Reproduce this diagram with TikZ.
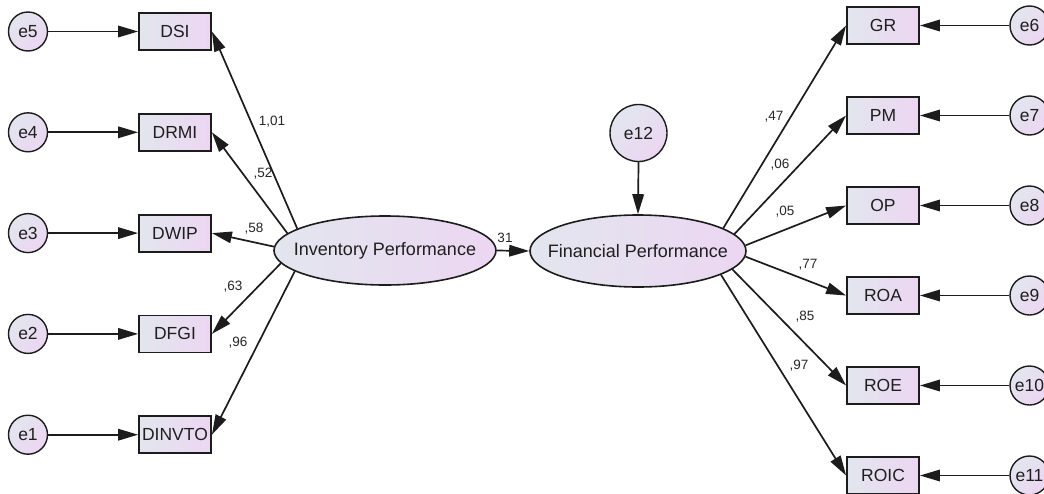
\documentclass[tikz,border=0pt]{standalone}
\usepackage{fontspec}
\setmainfont{Liberation Sans}
\usetikzlibrary{arrows.meta,shapes.geometric}
\definecolor{lcol}{RGB}{226,230,238}
\definecolor{rcol}{RGB}{236,214,242}
\definecolor{edge}{RGB}{28,28,28}
\begin{document}
\begin{tikzpicture}[x=1pt,y=-1pt,
  obs/.style={draw=edge,line width=1.8pt,rectangle,minimum width=72pt,minimum height=37pt,inner sep=0pt,
    left color=lcol,right color=rcol,text=black!88,font=\fontsize{17.5}{20}\selectfont},
  err/.style={draw=edge,line width=1.4pt,circle,minimum size=39pt,inner sep=0pt,
    top color=lcol,bottom color=rcol,shading angle=45,text=black!88,font=\fontsize{17.5}{20}\selectfont},
  lat/.style={draw=edge,line width=1.6pt,ellipse,inner xsep=-25pt,inner ysep=0pt,
    left color=lcol,right color=rcol,text=black!88,font=\fontsize{18}{20}\selectfont},
  arr/.style={draw=edge,line width=1.7pt,-{Triangle[length=20pt,width=11.5pt]}},
  lbl/.style={inner sep=0pt,text=black!85,font=\fontsize{13.5}{16}\selectfont}]
\useasboundingbox (0,0) rectangle (1044,493);
% latent variables
\node[lat,minimum width=222pt,minimum height=69pt] (ip) at (385,250.5) {Inventory Performance};
\node[lat,minimum width=216pt,minimum height=72pt] (fp) at (638,251) {Financial Performance};
\node[err,minimum size=57pt] (e12) at (638.5,133) {e12};
% left observed
\node[obs] (dsi) at (175,31.5) {DSI};
\node[obs] (drmi) at (175,132.3) {DRMI};
\node[obs] (dwip) at (175,233.1) {DWIP};
\node[obs] (dfgi) at (175,333.9) {DFGI};
\node[obs] (dinvto) at (175,434.7) {DINVTO};
\node[err] (e5) at (28,31.5) {e5};
\node[err] (e4) at (28,132.3) {e4};
\node[err] (e3) at (28,233.1) {e3};
\node[err] (e2) at (28,333.9) {e2};
\node[err] (e1) at (28,434.7) {e1};
% right observed
\node[obs] (gr) at (883,25.5) {GR};
\node[obs] (pm) at (883,115.5) {PM};
\node[obs] (op) at (883,205.5) {OP};
\node[obs] (roa) at (883,295.5) {ROA};
\node[obs] (roe) at (883,385.5) {ROE};
\node[obs] (roic) at (883,475.5) {ROIC};
\node[err] (e6) at (1029.5,25.5) {e6};
\node[err] (e7) at (1029.5,115.5) {e7};
\node[err] (e8) at (1029.5,205.5) {e8};
\node[err] (e9) at (1029.5,295.5) {e9};
\node[err] (e10) at (1029.5,385.5) {e10};
\node[err] (e11) at (1029.5,475.5) {e11};
% error arrows
\foreach \e/\b in {e5/dsi,e4/drmi,e3/dwip,e2/dfgi,e1/dinvto}
  \draw[arr] (\e.east) -- (\b.west);
\foreach \e/\b in {e6/gr,e7/pm,e8/op,e9/roa,e10/roe,e11/roic}
  \draw[arr] (\e.west) -- (\b.east);
\draw[arr] (e12.south) -- (fp.north);
% loadings
\draw[arr] (ip.166.6) -- (dsi.east);
\draw[arr] (ip.170.5) -- (drmi.east);
\draw[arr] (ip.178) -- (dwip.east);
\draw[arr] (ip.187) -- (dfgi.east);
\draw[arr] (ip.193) -- (dinvto.east);
\draw[arr] (fp.15) -- (gr.west);
\draw[arr] (fp.10) -- (pm.west);
\draw[arr] (fp.3.7) -- (op.west);
\draw[arr] (fp.-3) -- (roa.west);
\draw[arr] (fp.-11) -- (roe.west);
\draw[arr] (fp.-16) -- (roic.west);
\draw[arr] (ip.east) -- (fp.west);
% labels
\node[lbl] (l1) at (272,122) {1,01};
\node[lbl] (l2) at (263,174) {,52};
\node[lbl] (l3) at (254,229) {,58};
\node[lbl] (l4) at (233,287) {,63};
\node[lbl] (l5) at (238,343) {,96};
\node[lbl] (l6) at (774,117) {,47};
\node[lbl] (l7) at (780,165) {,06};
\node[lbl] (l8) at (785,212) {,05};
\node[lbl] (l9) at (808,265) {,77};
\node[lbl] (l10) at (805,317) {,85};
\node[lbl] (l11) at (799,366) {,97};
\node[lbl] (l12) at (505,238) {31};
\end{tikzpicture}
\end{document}
